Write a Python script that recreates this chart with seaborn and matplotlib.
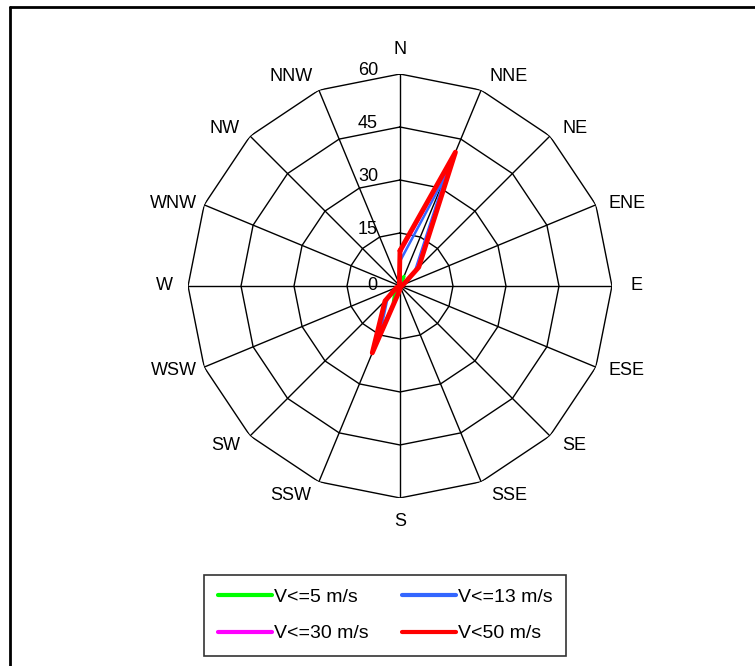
import numpy as np
import pandas as pd
import matplotlib
matplotlib.use("Agg")
import matplotlib.pyplot as plt
from matplotlib.lines import Line2D
import seaborn as sns

# wind directions, clockwise from north
directions = ['N', 'NNE', 'NE', 'ENE', 'E', 'ESE', 'SE', 'SSE',
              'S', 'SSW', 'SW', 'WSW', 'W', 'WNW', 'NW', 'NNW']
ring_values = [15, 30, 45, 60]

# frequency per direction for each speed class
v_le5 = [0.5, 3, 0.5, 0, 0, 0, 0, 0, 0.5, 5, 2, 0, 0, 0, 0, 0]
v_le13 = [7, 34, 6, 0.5, 0, 0, 0, 0, 0.5, 15, 5, 0.5, 0, 0, 0, 0]
v_le30 = [9.5, 40, 7, 1, 0.5, 0, 0, 0, 1, 19.5, 6, 1, 0, 0, 0, 0]
v_lt50 = [10, 41, 7.5, 1, 0.5, 0, 0, 0, 1, 20.5, 6, 1, 0, 0, 0, 0.5]

series_names = ['V<=5 m/s', 'V<=13 m/s', 'V<=30 m/s', 'V<50 m/s']
series_values = [v_le5, v_le13, v_le30, v_lt50]
series_colors = ['#00ff00', '#3366ff', '#ff00ff', '#ff0000']
series_widths = [2.2, 1.8, 2.5, 3.5]

sns.set_style("white")
plt.rcParams['font.family'] = ['Liberation Sans', 'DejaVu Sans']
plt.rcParams['text.color'] = 'black'

fig = plt.figure(figsize=(7.55, 6.66), dpi=100)
ax = fig.add_axes([0.249, 0.2523, 0.5616, 0.6366], projection='polar')
ax.set_theta_zero_location('N')
ax.set_theta_direction(-1)
ax.set_ylim(0, 60)
ax.grid(False)
ax.spines['polar'].set_visible(False)
ax.set_xticks([])
ax.set_yticks([])

theta = np.deg2rad(np.arange(len(directions)) * 22.5)
theta_closed = np.append(theta, theta[0])

# polygon rings and spokes
for rv in ring_values:
    ax.plot(theta_closed, [rv] * len(theta_closed), color='black', lw=1.0, zorder=1)
for t in theta:
    ax.plot([t, t], [0, 60], color='black', lw=1.0, zorder=1)

# data lines
rows = []
for name, vals in zip(series_names, series_values):
    closed = list(vals) + [vals[0]]
    for t, r in zip(theta_closed, closed):
        rows.append({'series': name, 'theta': t, 'r': r})
df = pd.DataFrame(rows)

for name, color, lw in zip(series_names, series_colors, series_widths):
    sub = df[df['series'] == name]
    sns.lineplot(data=sub, x='theta', y='r', sort=False, estimator=None,
                 color=color, lw=lw, ax=ax, zorder=3)
ax.set_xlabel('')
ax.set_ylabel('')
if ax.get_legend() is not None:
    ax.get_legend().remove()

# direction labels, nudged towards the horizontal axis like the original
right_shift = [0, 5, 3, 2.5, 0, -2, -2.5, -5, 0]
for i, d in enumerate(directions):
    shift = right_shift[i] if i <= 8 else -right_shift[16 - i]
    rad = 68.3 if i in (3, 5, 11, 13) else 66.8
    ax.text(np.deg2rad(22.5 * i + shift), rad, d, ha='center', va='center',
            fontsize=13, color='black', clip_on=False)

# radial labels
for rv in ring_values:
    ax.annotate(str(rv), xy=(0, rv), xytext=(-22, 3), textcoords='offset pixels',
                ha='right', va='center', fontsize=13, color='black')
ax.annotate('0', xy=(0, 0), xytext=(-23, 0), textcoords='offset pixels',
            ha='right', va='center', fontsize=13, color='black')

# legend filled row by row: matplotlib fills columns, so reorder
order = [0, 2, 1, 3]
handles = [Line2D([0], [0], color=series_colors[k], lw=3) for k in order]
labels = [series_names[k] for k in order]
leg = fig.legend(handles, labels, loc='upper left',
                 bbox_to_anchor=(204 / 755, 1 - 575 / 666), ncol=2,
                 fontsize=14, frameon=True, fancybox=False, edgecolor='black',
                 handlelength=2.8, handletextpad=0.1, columnspacing=1.7,
                 borderpad=0.7, labelspacing=0.95, borderaxespad=0)
leg.get_frame().set_linewidth(1.2)
for txt in leg.get_texts():
    txt.set_color('black')

# outer frame (left and top edges)
fig.add_artist(Line2D([9.5 / 755, 9.5 / 755], [0, 1 - 6.5 / 666],
                      transform=fig.transFigure, color='black', lw=2))
fig.add_artist(Line2D([9.5 / 755, 1], [1 - 6.5 / 666, 1 - 6.5 / 666],
                      transform=fig.transFigure, color='black', lw=2))

fig.savefig('out.png', dpi=100)
